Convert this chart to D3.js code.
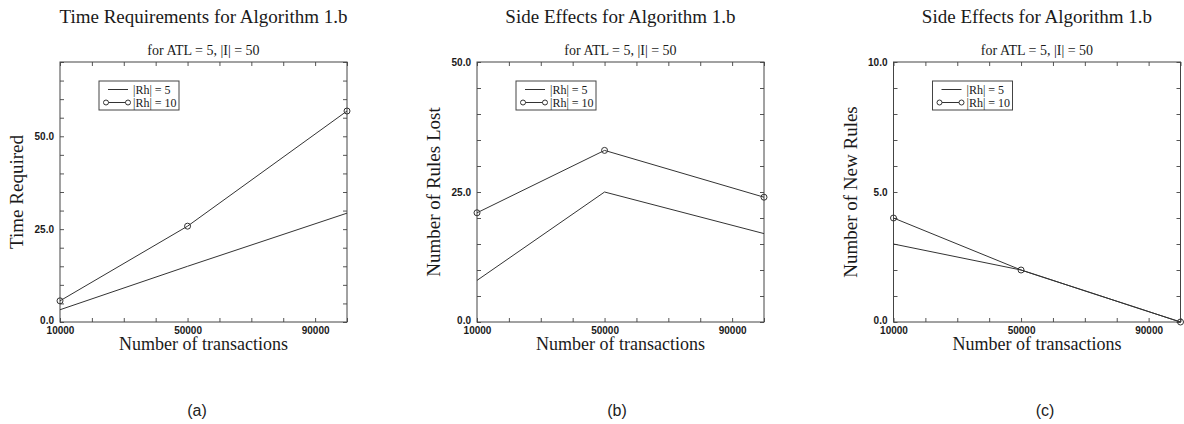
<!DOCTYPE html>
<html>
<head>
<meta charset="utf-8">
<script src="https://cdn.jsdelivr.net/npm/d3@7"></script>
<style>
  body { margin: 0; background: #fff; }
  svg { display: block; }
  .tick text { font-family: "Liberation Sans", Arial, sans-serif; font-size: 10px; font-weight: bold; fill: #1a1a1a; }
  .tick line { stroke: #555; }
  .serif { font-family: "Liberation Serif", "Times New Roman", serif; fill: #1a1a1a; }
</style>
</head>
<body>
<svg id="chart" width="1184" height="424"></svg>
<script>
// transactions on the x axis
var xValues = [10000, 50000, 100000]
var xLabelTicks = [10000, 50000, 90000]

// (a) time required
var timeRh5 = [3.3, 15.0, 29.3]
var timeRh10 = [5.7, 25.8, 56.8]
// (b) rules lost
var lostRh5 = [8, 25, 17]
var lostRh10 = [21, 33, 24]
// (c) new rules
var newRh5 = [3, 2, 0]
var newRh10 = [4, 2, 0]

var seriesNames = ['|Rh| = 5', '|Rh| = 10']
var captions = ['(a)', '(b)', '(c)']

var panels = [
    { title: 'Time Requirements for Algorithm 1.b', ylabel: 'Time Required',
      ymax: 70, ystep: 5, ylabels: [0, 25, 50], s5: timeRh5, s10: timeRh10 },
    { title: 'Side Effects for Algorithm 1.b', ylabel: 'Number of Rules Lost',
      ymax: 50, ystep: 5, ylabels: [0, 25, 50], s5: lostRh5, s10: lostRh10 },
    { title: 'Side Effects for Algorithm 1.b', ylabel: 'Number of New Rules',
      ymax: 10, ystep: 1, ylabels: [0, 5, 10], s5: newRh5, s10: newRh10 }
]

var svg = d3.select('#chart')
var lefts = [60, 477, 893.5]
var captionX = [197, 617, 1045]
var pw = 287, plotTop = 62, plotBottom = 322

panels.forEach(function (p, i) {
    var left = lefts[i]
    var x = d3.scaleLinear().domain([10000, 100000]).range([left, left + pw])
    var y = d3.scaleLinear().domain([0, p.ymax]).range([plotBottom, plotTop])
    var xt = d3.range(10000, 100001, 10000)
    var yt = d3.range(0, p.ymax + 0.001, p.ystep).map(v => +v.toFixed(3))
    var g = svg.append('g')

    g.append('g').attr('transform', 'translate(0,' + plotBottom + ')')
        .call(d3.axisBottom(x).tickValues(xt).tickSize(-4).tickPadding(5)
            .tickFormat(d => xLabelTicks.indexOf(d) >= 0 ? d : ''))
    g.append('g').attr('transform', 'translate(0,' + plotTop + ')')
        .call(d3.axisTop(x).tickValues(xt).tickSize(-4).tickFormat(''))
    var ya = g.append('g').attr('transform', 'translate(' + left + ',0)')
        .call(d3.axisLeft(y).tickValues(yt).tickSize(-4).tickPadding(6)
            .tickFormat(d => p.ylabels.indexOf(d) >= 0 ? d3.format('.1f')(d) : ''))
    // the 0.0 label sits a little above the corner, as in the original
    ya.selectAll('.tick text').filter(d => d === 0).attr('dy', '0.1em')
    g.append('g').attr('transform', 'translate(' + (left + pw) + ',0)')
        .call(d3.axisRight(y).tickValues(yt).tickSize(-4).tickFormat(''))
    g.selectAll('.domain').remove()

    g.append('rect').attr('x', left).attr('y', plotTop).attr('width', pw).attr('height', plotBottom - plotTop)
        .attr('fill', 'none').attr('stroke', '#444').attr('stroke-width', 1)

    var line = d3.line().x((d, j) => x(xValues[j])).y(d => y(d))
    g.append('path').datum(p.s5).attr('d', line)
        .attr('fill', 'none').attr('stroke', '#333').attr('stroke-width', 1)
    g.append('path').datum(p.s10).attr('d', line)
        .attr('fill', 'none').attr('stroke', '#333').attr('stroke-width', 1)
    g.selectAll('circle.pt').data(p.s10).enter().append('circle')
        .attr('cx', (d, j) => x(xValues[j])).attr('cy', d => y(d)).attr('r', 3)
        .attr('fill', 'none').attr('stroke', '#333').attr('stroke-width', 1)

    // titles
    var cx = left + pw / 2
    g.append('text').attr('class', 'serif').attr('x', cx).attr('y', 23)
        .attr('text-anchor', 'middle').style('font-size', '19px').text(p.title)
    g.append('text').attr('class', 'serif').attr('x', cx).attr('y', 55)
        .attr('text-anchor', 'middle').style('font-size', '14px').text('for ATL = 5, |I| = 50')
    g.append('text').attr('class', 'serif').attr('x', cx).attr('y', plotBottom + 28)
        .attr('text-anchor', 'middle').style('font-size', '18px').text('Number of transactions')
    g.append('text').attr('class', 'serif')
        .attr('transform', 'translate(' + (left - 37) + ',' + ((plotTop + plotBottom) / 2) + ') rotate(-90)')
        .attr('text-anchor', 'middle').style('font-size', '19px').text(p.ylabel)

    // legend
    var lx = left + 39, ly = plotTop + 19
    var lg = g.append('g').attr('transform', 'translate(' + lx + ',' + ly + ')')
    lg.append('rect').attr('width', 80).attr('height', 29)
        .attr('fill', '#fff').attr('stroke', '#444').attr('stroke-width', 1)
    lg.append('line').attr('x1', 9).attr('x2', 29).attr('y1', 8.5).attr('y2', 8.5)
        .attr('stroke', '#333')
    lg.append('line').attr('x1', 7).attr('x2', 29).attr('y1', 21.5).attr('y2', 21.5)
        .attr('stroke', '#333')
    lg.selectAll('circle').data([7, 29]).enter().append('circle')
        .attr('cx', d => d).attr('cy', 21.5).attr('r', 2.5)
        .attr('fill', '#fff').attr('stroke', '#333')
    lg.selectAll('text').data(seriesNames).enter().append('text')
        .attr('class', 'serif').attr('x', 34).attr('y', (d, j) => 12.5 + j * 13)
        .style('font-size', '12px').text(d => d)

    svg.append('text').attr('x', captionX[i]).attr('y', 416)
        .attr('text-anchor', 'middle')
        .style('font-family', 'Liberation Sans, Arial, sans-serif').style('font-size', '16px')
        .style('fill', '#222').text(captions[i])
})
</script>
</body>
</html>
